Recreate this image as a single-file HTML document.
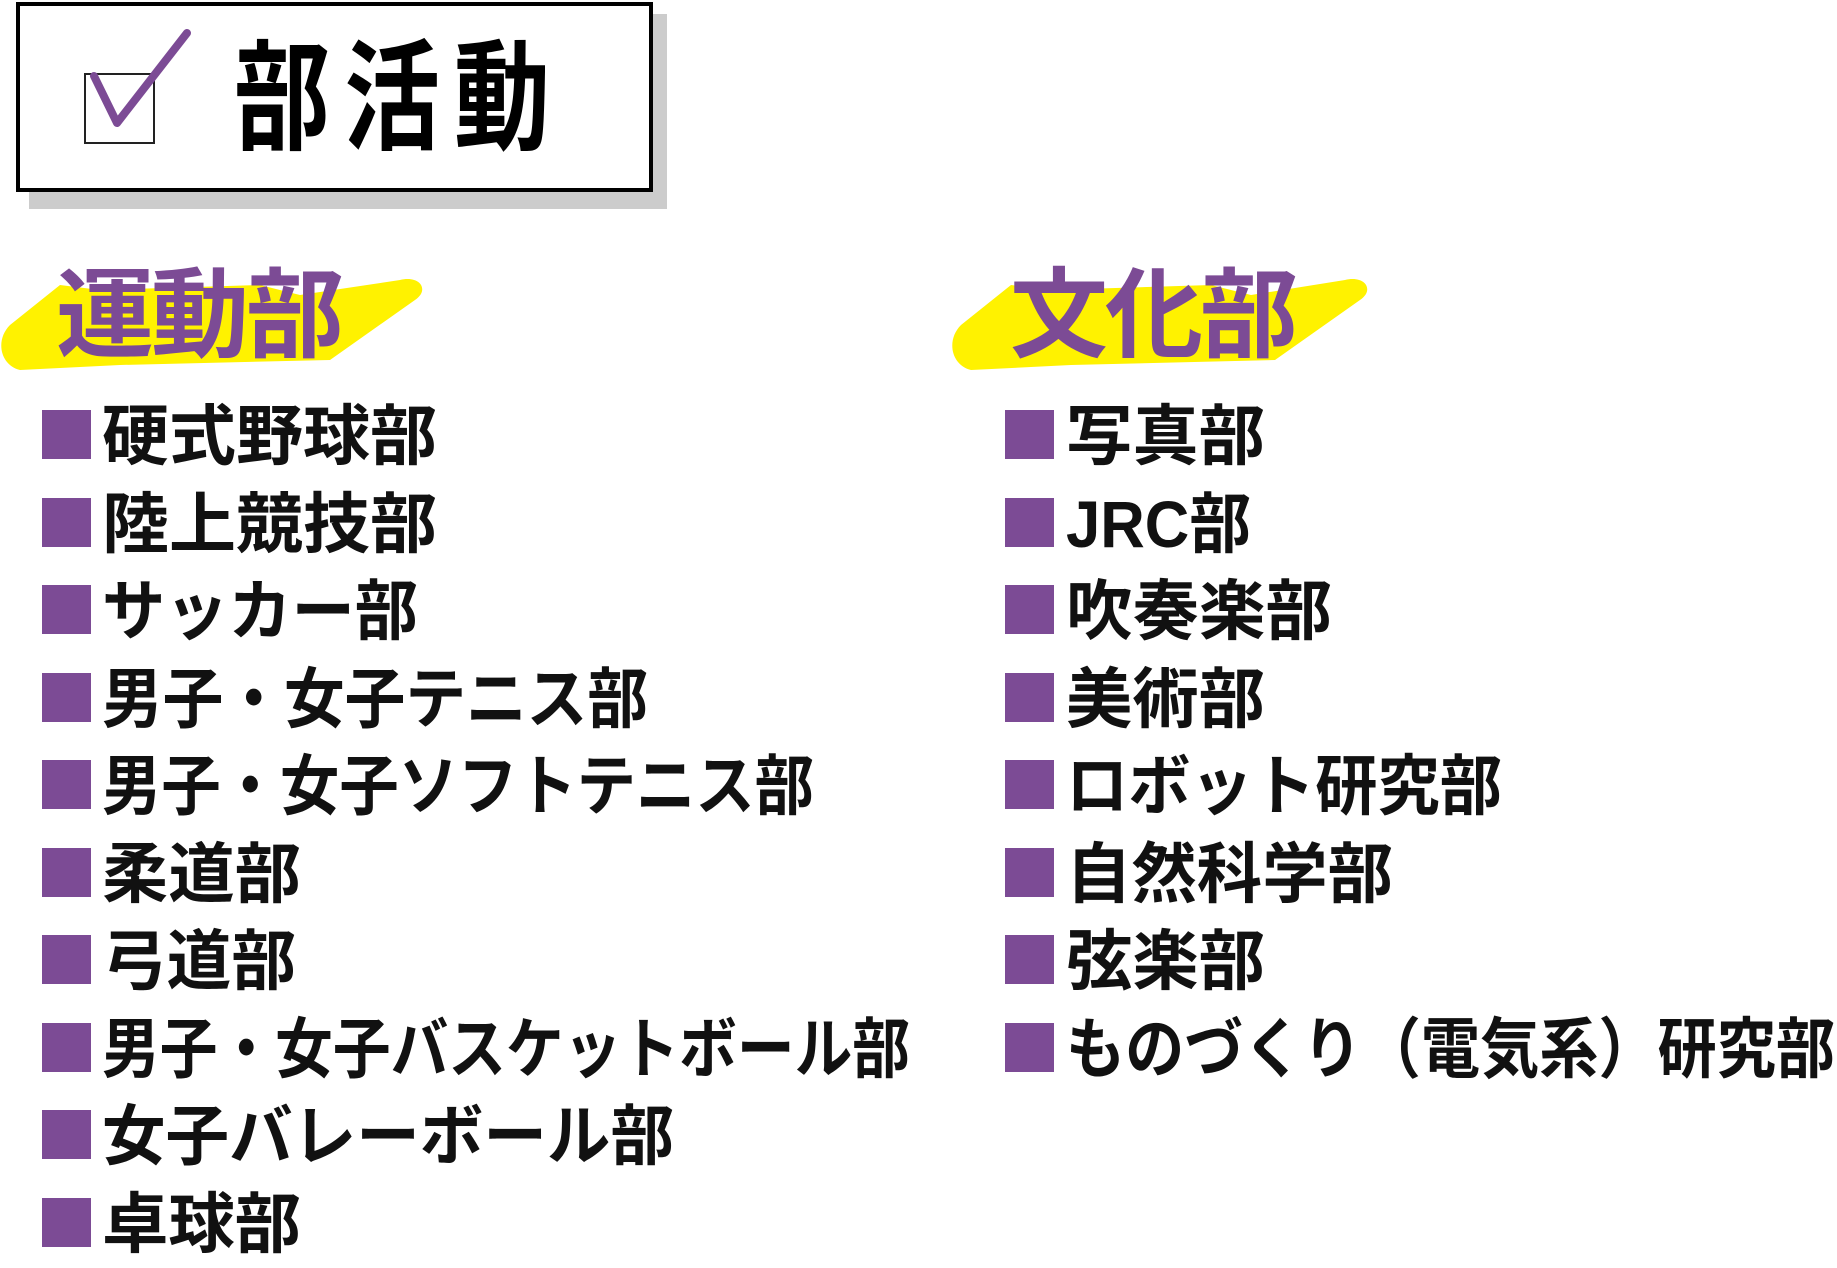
<!DOCTYPE html>
<html><head><meta charset="utf-8">
<style>
html,body{margin:0;padding:0;background:#fff;}
body{width:1837px;height:1268px;position:relative;overflow:hidden;font-family:"Liberation Sans","Noto Sans CJK JP",sans-serif;}
.abs{position:absolute;}
.h{position:absolute;font-size:98px;font-weight:bold;color:#7c4b95;line-height:1;letter-spacing:-3px;}
svg text{font-family:"Liberation Sans","Noto Sans CJK JP",sans-serif;}
</style></head><body>
<div class="abs" style="left:29px;top:14px;width:638px;height:195px;background:#cccccc;"></div>
<div class="abs" style="left:16px;top:2px;width:629px;height:182px;background:#fff;border:4px solid #000;"></div>
<div class="abs" style="left:84px;top:73px;width:67px;height:67px;border:2px solid #222;"></div>
<svg class="abs" style="left:0;top:0" width="700" height="200"><polyline points="94,76 117,123 187,33" fill="none" stroke="#7c4b95" stroke-width="8" stroke-linecap="round" stroke-linejoin="round"/></svg>
<div class="abs" style="left:234px;top:40px;font-size:96px;color:#000;line-height:1;letter-spacing:14px;font-weight:bold;transform:scale(1,1.25);transform-origin:0 0;">部活動</div>

<svg class="abs" style="left:0;top:270px" width="1400" height="110">
<g fill="#fff200">
<path d="M10,55 L60,15 L100,20 L260,15 L300,25 L400,10 C420,5 430,20 415,30 L330,90 L120,95 L20,100 C0,95 -5,70 10,55 Z"/>
<path d="M961,55 L1011,15 L1051,20 L1211,15 L1251,25 L1345,10 C1365,5 1375,20 1360,30 L1275,90 L1071,95 L971,100 C951,95 946,70 961,55 Z"/>
</g></svg>
<div class="h" style="left:56px;top:266px;">運動部</div>
<div class="h" style="left:1010px;top:266px;">文化部</div>

<svg class="abs" style="left:0;top:0" width="1837" height="1268">
<g fill="#7c4b95">
<rect x="42" y="410" width="49" height="49"/><rect x="42" y="498" width="49" height="49"/><rect x="42" y="585" width="49" height="49"/><rect x="42" y="673" width="49" height="49"/><rect x="42" y="760" width="49" height="49"/><rect x="42" y="848" width="49" height="49"/><rect x="42" y="935" width="49" height="49"/><rect x="42" y="1023" width="49" height="49"/><rect x="42" y="1110" width="49" height="49"/><rect x="42" y="1198" width="49" height="49"/>
<rect x="1005" y="410" width="49" height="49"/><rect x="1005" y="498" width="49" height="49"/><rect x="1005" y="585" width="49" height="49"/><rect x="1005" y="673" width="49" height="49"/><rect x="1005" y="760" width="49" height="49"/><rect x="1005" y="848" width="49" height="49"/><rect x="1005" y="935" width="49" height="49"/><rect x="1005" y="1023" width="49" height="49"/>
</g>
<g font-size="66" font-weight="bold" fill="#111">
<text x="102" y="459" textLength="335" lengthAdjust="spacingAndGlyphs">硬式野球部</text>
<text x="102" y="547" textLength="335" lengthAdjust="spacingAndGlyphs">陸上競技部</text>
<text x="102" y="634" textLength="316" lengthAdjust="spacingAndGlyphs">サッカー部</text>
<text x="102" y="722" textLength="546" lengthAdjust="spacingAndGlyphs">男子・女子テニス部</text>
<text x="102" y="809" textLength="712" lengthAdjust="spacingAndGlyphs">男子・女子ソフトテニス部</text>
<text x="102" y="897" textLength="199" lengthAdjust="spacingAndGlyphs">柔道部</text>
<text x="102" y="984" textLength="194" lengthAdjust="spacingAndGlyphs">弓道部</text>
<text x="102" y="1072" textLength="808" lengthAdjust="spacingAndGlyphs">男子・女子バスケットボール部</text>
<text x="102" y="1159" textLength="572" lengthAdjust="spacingAndGlyphs">女子バレーボール部</text>
<text x="102" y="1247" textLength="199" lengthAdjust="spacingAndGlyphs">卓球部</text>
<text x="1066" y="459" textLength="199" lengthAdjust="spacingAndGlyphs">写真部</text>
<text x="1066" y="547" textLength="185" lengthAdjust="spacingAndGlyphs">JRC部</text>
<text x="1066" y="634" textLength="266" lengthAdjust="spacingAndGlyphs">吹奏楽部</text>
<text x="1066" y="722" textLength="199" lengthAdjust="spacingAndGlyphs">美術部</text>
<text x="1066" y="809" textLength="436" lengthAdjust="spacingAndGlyphs">ロボット研究部</text>
<text x="1066" y="897" textLength="327" lengthAdjust="spacingAndGlyphs">自然科学部</text>
<text x="1066" y="984" textLength="199" lengthAdjust="spacingAndGlyphs">弦楽部</text>
<text x="1066" y="1072" textLength="769" lengthAdjust="spacingAndGlyphs">ものづくり（電気系）研究部</text>
</g>
</svg>
</body></html>
